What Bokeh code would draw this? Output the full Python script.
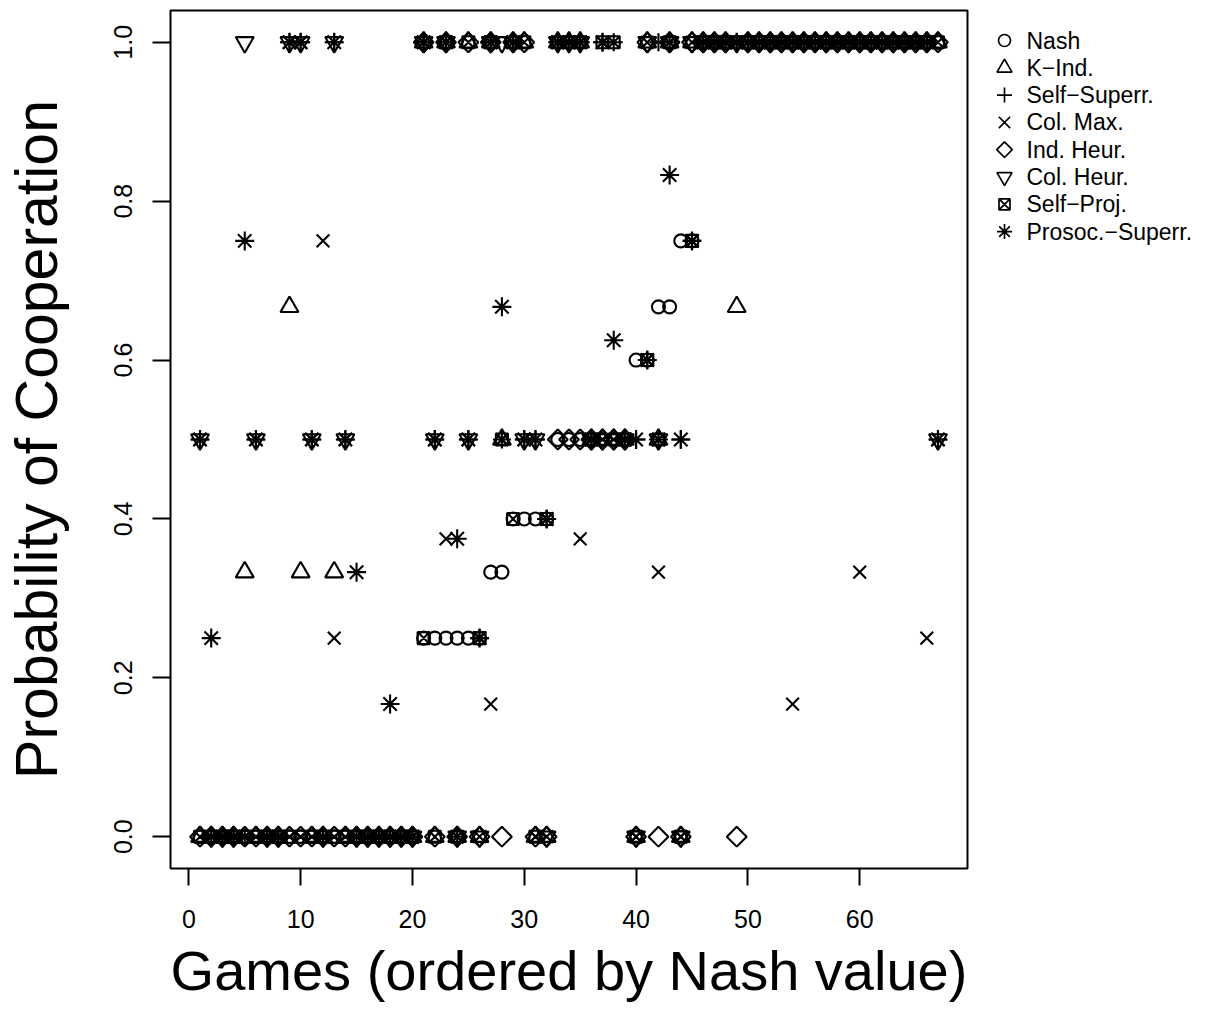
import math
from bokeh.plotting import figure
from bokeh.layouts import row
from bokeh.models import FixedTicker, NumeralTickFormatter, Range1d, ColumnDataSource
from bokeh.core.properties import value
from bokeh.embed import file_html
from bokeh.resources import INLINE

FONT = "Liberation Sans"

games = list(range(1, 68))

model_names = ["Nash", "K\u2212Ind.", "Self\u2212Superr.", "Col. Max.", "Ind. Heur.",
               "Col. Heur.", "Self\u2212Proj.", "Prosoc.\u2212Superr."]

x_ticks = [0, 10, 20, 30, 40, 50, 60]
y_ticks = [0.0, 0.2, 0.4, 0.6, 0.8, 1.0]

x_title = "Games (ordered by Nash value)"
y_title = "Probability of Cooperation"

nash = [0, 0, 0, 0, 0, 0, 0, 0, 0, 0,
        0, 0, 0, 0, 0, 0, 0, 0, 0, 0,
        0.25, 0.25, 0.25, 0.25, 0.25, 0.25, 0.333, 0.333, 0.4, 0.4,
        0.4, 0.4, 0.5, 0.5, 0.5, 0.5, 0.5, 0.5, 0.5, 0.6,
        0.6, 0.667, 0.667, 0.75, 0.75, 1, 1, 1, 1, 1,
        1, 1, 1, 1, 1, 1, 1, 1, 1, 1,
        1, 1, 1, 1, 1, 1, 1]

k_ind = [0, 0, 0, 0, 0.333, 0, 0, 0, 0.667, 0.333,
         0, 0, 0.333, 0, 0, 0, 0, 0, 0, 0,
         1, 0, 1, 0, 1, 0, 1, 0.5, 1, 1,
         0, 0, 1, 1, 1, 0.5, 0.5, 0.5, 0.5, 0,
         1, 0.5, 1, 0, 1, 1, 1, 1, 0.667, 1,
         1, 1, 1, 1, 1, 1, 1, 1, 1, 1,
         1, 1, 1, 1, 1, 1, 1]

self_superr = [0.5, 0, 0, 0, 0, 0.5, 0, 0, 1, 1,
               0.5, 0, 1, 0.5, 0, 0, 0, 0, 0, 0,
               1, 0.5, 1, 0, 0.5, 0.25, 1, 0.5, 1, 0.5,
               0.5, 0.4, 1, 1, 1, 0.5, 1, 1, 0.5, 0.5,
               0.6, 1, 1, 0.5, 0.75, 1, 1, 1, 1, 1,
               1, 1, 1, 1, 1, 1, 1, 1, 1, 1,
               1, 1, 1, 1, 1, 1, 0.5]

col_max = [0.5, 0, 0, 0, 0, 0.5, 0, 0, 1, 1,
           0.5, 0.75, 0.25, 0.5, 0, 0, 0, 0, 0, 0,
           1, 0.5, 0.375, 0, 0.5, 0, 0.167, 0.5, 1, 0.5,
           0, 0, 1, 1, 0.375, 0.5, 0.5, 0.5, 0.5, 0,
           1, 0.333, 1, 0, 1, 1, 1, 1, 1, 1,
           1, 1, 1, 0.167, 1, 1, 1, 1, 1, 0.333,
           1, 1, 1, 1, 1, 0.25, 0.5]

ind_heur = [0, 0, 0, 0, 0, 0, 0, 0, 0, 0,
            0, 0, 0, 0, 0, 0, 0, 0, 0, 0,
            1, 0, 1, 0, 1, 0, 1, 0, 1, 1,
            0, 0, 0.5, 0.5, 0.5, 0.5, 0.5, 0.5, 0.5, 0,
            1, 0, 1, 0, 1, 1, 1, 1, 0, 1,
            1, 1, 1, 1, 1, 1, 1, 1, 1, 1,
            1, 1, 1, 1, 1, 1, 1]

col_heur = [0.5, 0, 0, 0, 1, 0.5, 0, 0, 1, 1,
            0.5, 0, 1, 0.5, 0, 0, 0, 0, 0, 0,
            1, 0.5, 1, 0, 0.5, 0, 1, 1, 1, 0.5,
            0.5, 0, 1, 1, 1, 0.5, 0.5, 0.5, 0.5, 0,
            1, 0.5, 1, 0, 1, 1, 1, 1, 1, 1,
            1, 1, 1, 1, 1, 1, 1, 1, 1, 1,
            1, 1, 1, 1, 1, 1, 0.5]

self_proj = [0, 0, 0, 0, 0, 0, 0, 0, 0, 0,
             0, 0, 0, 0, 0, 0, 0, 0, 0, 0,
             0.25, 0, 1, 0, 1, 0.25, 1, 0.5, 0.4, 1,
             0, 0.4, 1, 1, 1, 0.5, 1, 1, 0.5, 0,
             0.6, 0.5, 1, 0, 0.75, 1, 1, 1, 1, 1,
             1, 1, 1, 1, 1, 1, 1, 1, 1, 1,
             1, 1, 1, 1, 1, 1, 1]

prosoc_superr = [0.5, 0.25, 0, 0, 0.75, 0.5, 0, 0, 1, 1,
                 0.5, 0, 1, 0.5, 0.333, 0, 0, 0.167, 0, 0,
                 1, 0.5, 1, 0.375, 0.5, 0.25, 1, 0.667, 1, 0.5,
                 0.5, 0.4, 1, 1, 1, 0.5, 1, 0.625, 0.5, 0.5,
                 0.6, 0.5, 0.833, 0.5, 0.75, 1, 1, 1, 1, 1,
                 1, 1, 1, 1, 1, 1, 1, 1, 1, 1,
                 1, 1, 1, 1, 1, 1, 0.5]

series = [nash, k_ind, self_superr, col_max, ind_heur, col_heur, self_proj, prosoc_superr]

# marker style per model: (bokeh marker, size in plot, size in legend, angle)
styles = [
    ("circle", 13, 12, 0.0),
    ("triangle", 18, 15, 0.0),
    ("cross", 18, 15, 0.0),
    ("x", 18, 16, 0.0),
    ("square", 14, 11, math.pi / 4),
    ("inverted_triangle", 18, 15, 0.0),
    ("square_x", 12, 11, 0.0),
    ("asterisk", 19, 15, 0.0),
]

keys = ["nash", "k_ind", "self_superr", "col_max", "ind_heur", "col_heur", "self_proj", "prosoc_superr"]
data = {"game": games}
for k, s in zip(keys, series):
    data[k] = s
src = ColumnDataSource(data)

FIG_H = 1008
BORDER_TOP = 10
BORDER_BOTTOM = 140
FRAME_H = FIG_H - BORDER_TOP - BORDER_BOTTOM
X0, X1 = -1.64, 69.64
Y0, Y1 = -0.04, 1.04
RIGHT_PAD = 12

p = figure(width=967 + RIGHT_PAD, height=FIG_H,
           x_range=Range1d(X0, X1), y_range=Range1d(Y0, Y1),
           output_backend="svg", toolbar_location=None,
           min_border_left=167, min_border_right=RIGHT_PAD,
           min_border_top=BORDER_TOP, min_border_bottom=BORDER_BOTTOM)
p.grid.visible = False
p.outline_line_color = "black"
p.outline_line_width = 2
p.background_fill_color = "white"
p.border_fill_color = "white"

for k, (mk, sz, lsz, ang) in zip(keys, styles):
    p.scatter(x="game", y=k, source=src, marker=mk, size=sz, angle=ang,
              line_color="black", line_width=2.1, fill_color=None)

xa = p.xaxis[0]
xa.ticker = FixedTicker(ticks=x_ticks)
xa.axis_line_color = None
xa.major_tick_in = 0
xa.major_tick_out = 17
xa.major_tick_line_width = 2
xa.major_tick_line_color = "black"
xa.minor_tick_line_color = None
xa.major_label_text_font = FONT
xa.major_label_text_font_size = "25px"
xa.major_label_text_color = "black"
xa.major_label_standoff = 24
xa.axis_label = x_title
xa.axis_label_text_font = FONT
xa.axis_label_text_font_size = "56px"
xa.axis_label_text_font_style = "normal"
xa.axis_label_text_color = "black"
xa.axis_label_standoff = 8

ya = p.yaxis[0]
ya.ticker = FixedTicker(ticks=y_ticks)
ya.formatter = NumeralTickFormatter(format="0.0")
ya.axis_line_color = None
ya.major_tick_in = 0
ya.major_tick_out = 18
ya.major_tick_line_width = 2
ya.major_tick_line_color = "black"
ya.minor_tick_line_color = None
ya.major_label_orientation = "vertical"
ya.major_label_text_font = FONT
ya.major_label_text_font_size = "25px"
ya.major_label_text_color = "black"
ya.major_label_standoff = 20
ya.axis_label = y_title
ya.axis_label_text_font = FONT
ya.axis_label_text_font_size = "59px"
ya.axis_label_text_font_style = "normal"
ya.axis_label_text_color = "black"
ya.axis_label_standoff = 42

# legend panel (separate figure to the right of the plot box), pixel coordinates
LEG_W = 1206 - (967 + RIGHT_PAD)
lf = figure(width=LEG_W, height=FIG_H, x_range=Range1d(0, LEG_W), y_range=Range1d(FRAME_H, 0),
            output_backend="svg", toolbar_location=None,
            x_axis_location=None, y_axis_location=None,
            min_border_left=0, min_border_right=0,
            min_border_top=BORDER_TOP, min_border_bottom=BORDER_BOTTOM)
lf.grid.visible = False
lf.outline_line_color = None
row_y = [30 + 27.3 * i for i in range(len(model_names))]
mark_x = 37 - RIGHT_PAD
text_x = 59 - RIGHT_PAD
for i, (mk, sz, lsz, ang) in enumerate(styles):
    lf.scatter(x=[mark_x], y=[row_y[i]], marker=mk, size=lsz, angle=ang,
               line_color="black", line_width=1.7, fill_color=None)
lf.text(x=[text_x] * len(model_names), y=row_y, text=model_names,
        text_font=value(FONT), text_font_size="23px", text_baseline="middle",
        text_align="left", text_color="black")

layout = row(p, lf)
open("out.html", "w").write(file_html(layout, INLINE))
